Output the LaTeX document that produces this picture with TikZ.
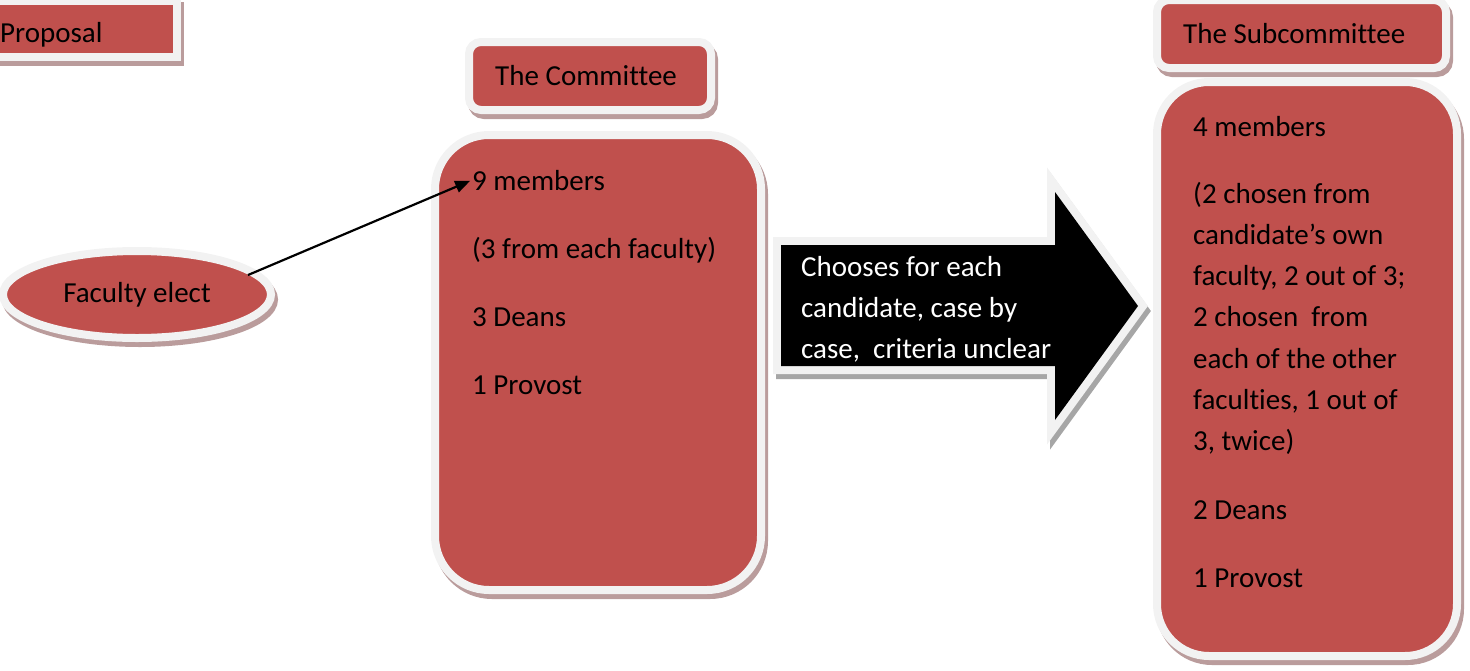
\documentclass[tikz,border=0pt]{standalone}
\usepackage{fontspec}
\setmainfont[Ligatures=NoCommon]{Carlito}
\usetikzlibrary{shapes.geometric,arrows.meta}
\definecolor{boxred}{HTML}{C0504D}
\definecolor{rim}{HTML}{F2F2F2}
\definecolor{shadowred}{HTML}{BA9C9C}
\definecolor{shadowgray}{HTML}{A6A6A6}
\tikzset{
  boxshadow/.style={preaction={draw=shadowred, fill=shadowred, line width=8pt,
      transform canvas={shift={(3,5)}}}},
  redbox/.style={boxshadow, rectangle, fill=boxred, draw=rim, line width=8pt, inner sep=0pt},
  redoval/.style={boxshadow, ellipse, fill=boxred, draw=rim, line width=8pt, inner sep=0pt,
      font=\fontsize{29}{41}\selectfont},
  txt/.style={anchor=base west, inner sep=0pt, font=\fontsize{29}{41}\selectfont, text=black},
  wtxt/.style={txt, text=white},
  link/.style={line width=2.2pt, -{Triangle[length=15pt,width=12pt]}, shorten >=2pt, shorten <=-10pt},
}
\begin{document}
\begin{tikzpicture}[x=1pt,y=-1pt]
\useasboundingbox (0,0) rectangle (1470,670);

% Proposal
\node[redbox, minimum width=201pt, minimum height=56pt] (propbox) at (76.5,29) {};
\node[txt] (prop) at (0,42) {Proposal};

% Committee header and body
\node[redbox, rounded corners=12pt, minimum width=242pt, minimum height=68pt] (comhead) at (590,76) {};
\node[txt] (comtitle) at (495,85) {The Committee};
\node[redbox, rounded corners=54pt, minimum width=326pt, minimum height=455pt] (combody) at (598,362.5) {};
\node[txt] (c1) at (472,190) {9 members};
\node[txt] (c2) at (472,258) {(3 from each faculty)};
\node[txt] (c3) at (472,326) {3 Deans};
\node[txt] (c4) at (472,394) {1 Provost};

% Faculty elect
\node[redoval, minimum width=268pt, minimum height=87pt] (fe) at (137,294.5) {Faculty elect};
\draw[link] (fe.11) -- (c1.west);

% Big arrow
\path[preaction={draw=shadowgray, fill=shadowgray, line width=16pt, transform canvas={shift={(3,5)}}},
      preaction={draw=rim, line width=16pt}, fill=black]
  (781,245) -- (1055,245) -- (1055,192) -- (1138,306) -- (1055,420) -- (1055,366) -- (781,366) -- cycle;
\node[wtxt] (a1) at (801,276) {Chooses for each};
\node[wtxt] (a2) at (801,317) {candidate, case by};
\node[wtxt] (a3) at (801,358) {case,\ \ criteria unclear};

% Subcommittee header and body
\node[redbox, rounded corners=12pt, minimum width=289pt, minimum height=68pt] (subhead) at (1301.5,34) {};
\node[txt] (subtitle) at (1183,43) {The Subcommittee};
\node[redbox, rounded corners=52pt, minimum width=300pt, minimum height=574pt] (subbody) at (1307,369) {};
\node[txt] (s1) at (1193,136) {4 members};
\node[txt] (s2) at (1193,203) {(2 chosen from};
\node[txt] (s3) at (1193,244) {candidate’s own};
\node[txt] (s4) at (1193,285) {faculty, 2 out of 3;};
\node[txt] (s5) at (1193,326) {2 chosen\ \ from};
\node[txt] (s6) at (1193,368) {each of the other};
\node[txt] (s7) at (1193,409) {faculties, 1 out of};
\node[txt] (s8) at (1193,450) {3, twice)};
\node[txt] (s9) at (1193,519) {2 Deans};
\node[txt] (s10) at (1193,587) {1 Provost};
\end{tikzpicture}
\end{document}
